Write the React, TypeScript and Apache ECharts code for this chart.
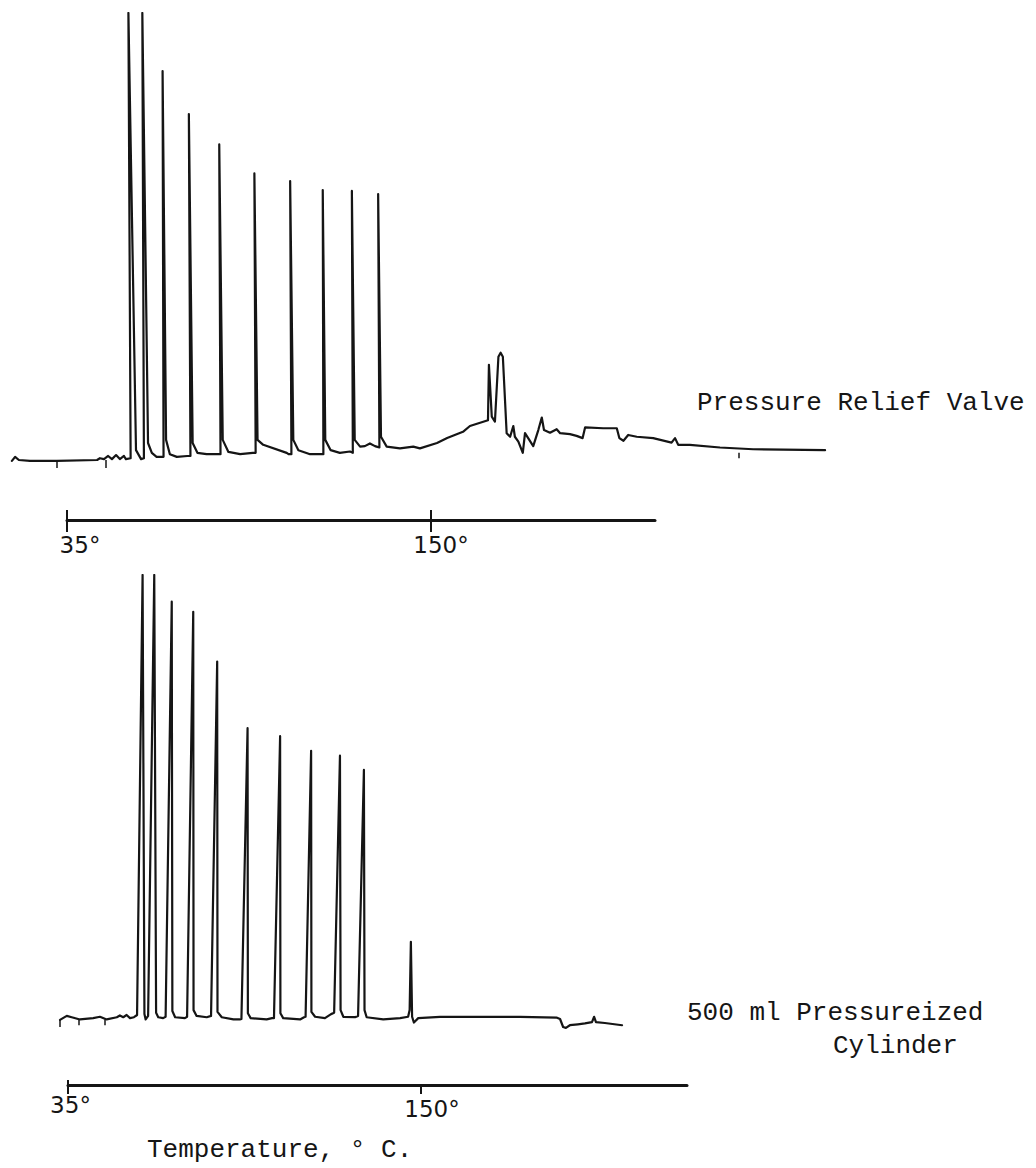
import React, { useEffect, useRef } from "react";
import * as echarts from "echarts";

// ---------------- data (x = column temperature, °C; y = detector response, % of full scale) ----------------
const tempTicks = [35, 150];

const topTrace: [number, number][] = [
  [17.6, -0.2], [18.6, 0.7], [19.8, 0], [23.3, -0.2], [31.8, -0.2], [44.5, 0], [45.4, 0.4], [46.7, 0.2],
  [48.0, 0.9], [49.2, 0.2], [50.5, 1.1], [51.7, 0.2], [53.0, 0.9], [53.6, 0.2], [55.1, 0.4],
  [54.4, 100], [56.8, 2.2], [58.4, 0.2], [59.3, 0.4],
  [58.8, 100], [60.6, 3.8], [61.8, 1.6], [63.3, 0.7], [65.5, 0.7],
  [65.2, 87.0], [66.3, 4.5], [67.5, 1.3], [69.7, 0.7], [73.0, 0.9], [74.0, 0.9],
  [73.5, 77.4], [74.7, 3.8], [76.2, 1.6], [79.1, 1.3], [82.8, 1.3], [83.5, 1.3],
  [83.1, 70.6], [84.2, 4.5], [86.0, 1.8], [89.7, 1.3], [93.7, 1.6], [94.6, 1.6],
  [94.2, 64.1], [95.2, 4.5], [97.0, 3.4], [104.4, 1.6], [105.0, 1.3], [105.9, 1.3],
  [105.5, 62.4], [106.5, 4.5], [108.1, 2.2], [111.8, 1.3], [115.2, 1.3], [116.0, 1.3],
  [115.8, 60.4], [116.6, 4.5], [118.3, 2.2], [121.2, 1.6], [124.4, 1.9], [125.3, 1.6],
  [125.0, 60.2], [125.9, 4.5], [127.6, 3.0], [129.1, 3.1], [130.7, 3.7], [132.3, 3.1], [132.8, 3.0], [133.7, 2.8],
  [133.3, 59.5], [134.2, 5.2], [136.0, 3.0], [140.2, 2.6], [144.4, 3.0], [146.5, 2.6],
  [151.9, 3.8], [155.1, 4.9], [160.1, 6.3], [162.3, 7.6], [168.0, 8.9],
  [168.3, 21.3], [169.2, 9.7], [170.2, 8.6], [171.3, 23.1], [172.0, 24.0], [172.7, 23.1],
  [173.9, 6.0], [175.0, 5.2], [176.0, 7.6], [176.5, 5.2], [177.6, 4.1], [179.0, 1.6], [179.7, 6.0],
  [180.7, 4.9], [182.3, 3.1], [183.9, 6.7], [185.0, 9.5], [185.7, 6.7], [187.6, 6.1], [189.7, 6.9],
  [190.8, 6.0], [193.9, 5.8], [196.0, 5.4], [197.9, 4.9], [198.7, 7.3], [204.4, 7.1], [208.7, 7.1],
  [209.5, 4.9], [210.8, 4.3], [212.3, 5.6], [215.0, 5.2], [220.2, 4.9], [226.0, 3.9], [227.1, 4.9],
  [228.1, 3.4], [231.8, 3.4], [241.3, 2.8], [251.8, 2.4], [274.5, 2.2],
];

const bottomTrace: [number, number][] = [
  [32.4, -0.2], [34.6, 0.7], [36.2, 0.4], [38.9, -0.1], [43.2, 0.2], [45.4, 0.5], [47.6, -0.1],
  [50.9, 0.4], [51.9, 0.8], [53.0, 0.4], [54.1, 0.9], [55.2, 0.2], [56.5, 0.4],
  [57.5, 0.9], [59.3, 100], [59.9, 1.1], [60.3, -0.1],
  [61.1, 0.7], [63.1, 100], [63.7, 1.4], [64.4, 0.4], [66.0, 0.2],
  [66.8, 0.5], [68.8, 94.0], [69.0, 1.8], [69.9, 0.4], [73.1, 0.2],
  [73.8, 0.5], [75.8, 91.7], [75.9, 2.0], [76.9, 0.7], [80.2, 0.4], [81.6, 0.7],
  [83.6, 80.5], [83.7, 1.6], [85.1, 0.4], [88.9, -0.1], [91.0, -0.1],
  [91.5, 0], [93.5, 65.5], [93.6, 1.3], [94.5, 0.2], [99.7, -0.1], [101.5, 0.2],
  [102.1, 0.2], [104.1, 63.7], [104.2, 1.3], [105.1, 0.2], [110.6, -0.1], [111.9, 0.4],
  [112.4, 0.5], [114.2, 60.4], [114.3, 1.6], [115.5, 0.5], [118.7, 0.2], [120.7, 1.1],
  [121.7, 1.4], [123.6, 59.3], [123.8, 2.0], [124.7, 0.5], [128.5, 0.4], [129.5, 0.7],
  [131.4, 56.1], [131.6, 2.0], [132.3, 0.4], [137.7, -0.1], [143.2, 0.2], [145.8, 0.5],
  [146.3, 2.0], [146.7, 17.4], [147.1, 0.5], [147.7, -0.8], [149.1, 0.2], [156.2, 0.5],
  [169.2, 0.5], [182.3, 0.5], [194.3, 0.3], [195.3, 0], [196.3, -1.8], [197.2, -2.0],
  [198.5, -1.4], [201.1, -1.2], [203.4, -1.0], [205.7, -0.7], [206.4, 0.5], [207.0, -0.7],
  [209.9, -0.9], [215.5, -1.4],
];

// event marks on the recorder trace: [temperature, from, to]
const topEventMarks: [number, number, number][] = [
  [31.8, -0.2, -1.8], [47.3, 0, -1.8], [247.3, 1.6, 0.4],
];
const bottomEventMarks: [number, number, number][] = [
  [32.4, -0.2, -1.8], [38.6, -0.1, -1.4], [47.1, -0.1, -1.4],
];

const topLabel = "Pressure Relief Valve";
const bottomLabelLines = ["500 ml Pressureized", "Cylinder"];
const axisTitle = "Temperature, ° C.";

// ---------------- layout ----------------
const W = 1036;
const H = 1168;
const INK = "#151515";
const Y_MIN = -5;
const Y_MAX = 100;

type PanelCfg = {
  t35: number; t150: number; barEnd: number; barY: number; plotTop: number; baseline: number;
  tickOut: number; innerTicks: number[]; innerLen: number; labelMargin: number;
  richA: any; richB: any;
};

const TOP: PanelCfg = {
  t35: 67, t150: 431, barEnd: 655, barY: 520, plotTop: 13, baseline: 460,
  tickOut: 12, innerTicks: [35, 150], innerLen: 10, labelMargin: 13,
  richA: { padding: [0, 0, 0, 26] }, richB: { padding: [0, 0, 0, 20] },
};
const BOT: PanelCfg = {
  t35: 68, t150: 421, barEnd: 687, barY: 1085, plotTop: 575, baseline: 1019,
  tickOut: 9, innerTicks: [35], innerLen: 5, labelMargin: 8,
  richA: { padding: [0, 0, 0, 5] }, richB: { padding: [8, 0, 0, 22] },
};

function buildPanel(p: number, cfg: PanelCfg, trace: [number, number][], marks: [number, number, number][]) {
  const pxPerDeg = (cfg.t150 - cfg.t35) / (tempTicks[1] - tempTicks[0]);
  const labelFont = { fontFamily: "DejaVu Sans", fontSize: 23, color: INK, lineHeight: 24 };
  const grids = [
    { left: 0, width: W, top: cfg.plotTop, height: ((cfg.baseline - cfg.plotTop) * (Y_MAX - Y_MIN)) / Y_MAX },
    { left: cfg.t35, width: cfg.barEnd - cfg.t35, top: cfg.barY - 1, height: 1 },
  ];
  const xAxes = [
    {
      gridIndex: 2 * p, type: "value", show: false,
      min: tempTicks[0] - cfg.t35 / pxPerDeg,
      max: tempTicks[0] + (W - cfg.t35) / pxPerDeg,
    },
    {
      gridIndex: 2 * p + 1, type: "value", position: "bottom",
      min: tempTicks[0], max: tempTicks[0] + (cfg.barEnd - cfg.t35) / pxPerDeg,
      axisLine: { show: true, onZero: false, lineStyle: { color: INK, width: 3 } },
      axisTick: { show: true, customValues: tempTicks, length: cfg.tickOut, lineStyle: { color: INK, width: 2 } },
      axisLabel: {
        show: true, customValues: tempTicks, margin: cfg.labelMargin,
        formatter: (v: number) => (v === tempTicks[0] ? `{a|${v}°}` : `{b|${v}°}`),
        rich: { a: { ...labelFont, ...cfg.richA }, b: { ...labelFont, ...cfg.richB } },
      },
      splitLine: { show: false },
    },
    {
      gridIndex: 2 * p + 1, type: "value", position: "bottom",
      min: tempTicks[0], max: tempTicks[0] + (cfg.barEnd - cfg.t35) / pxPerDeg,
      axisLine: { show: false, onZero: false },
      axisTick: { show: true, inside: true, customValues: cfg.innerTicks, length: cfg.innerLen, lineStyle: { color: INK, width: 2 } },
      axisLabel: { show: false },
      splitLine: { show: false },
    },
  ];
  const yAxes = [
    { gridIndex: 2 * p, type: "value", show: false, min: Y_MIN, max: Y_MAX },
    { gridIndex: 2 * p + 1, type: "value", show: false, min: 0, max: 1 },
  ];
  const series = [
    {
      type: "line",
      xAxisIndex: 3 * p,
      yAxisIndex: 2 * p,
      data: trace,
      showSymbol: false,
      symbol: "none",
      smooth: false,
      lineStyle: { color: INK, width: 2.2, join: "round", cap: "round" },
      markLine: {
        silent: true,
        symbol: ["none", "none"],
        label: { show: false },
        lineStyle: { color: INK, width: 1.5, type: "solid" },
        data: marks.map(([t, a, b]) => [{ coord: [t, a] }, { coord: [t, b] }]),
      },
    },
  ];
  return { grids, xAxes, yAxes, series };
}

export default function App() {
  const ref = useRef<HTMLDivElement>(null);

  useEffect(() => {
    if (!ref.current) return;
    const chart = echarts.init(ref.current, undefined, { renderer: "svg", width: W, height: H });
    const a = buildPanel(0, TOP, topTrace, topEventMarks);
    const b = buildPanel(1, BOT, bottomTrace, bottomEventMarks);
    const monoText = (text: string, x: number, y: number, size: number) => ({
      type: "text",
      x,
      y,
      silent: true,
      style: { text, fill: INK, fontFamily: "Liberation Mono", fontSize: size, verticalAlign: "middle", align: "left" },
    });
    chart.setOption({
      animation: false,
      backgroundColor: "#ffffff",
      grid: [...a.grids, ...b.grids],
      xAxis: [...a.xAxes, ...b.xAxes],
      yAxis: [...a.yAxes, ...b.yAxes],
      series: [...a.series, ...b.series],
      graphic: [
        monoText(topLabel, 697, 403, 26),
        monoText(bottomLabelLines[0], 687, 1013, 26),
        monoText(bottomLabelLines[1], 833, 1046, 26),
        monoText(axisTitle, 147, 1150, 26),
      ],
    });
    return () => chart.dispose();
  }, []);

  return (
    <div
      ref={ref}
      style={{ position: "absolute", left: 0, top: 0, width: W, height: H, background: "#fff" }}
    />
  );
}
